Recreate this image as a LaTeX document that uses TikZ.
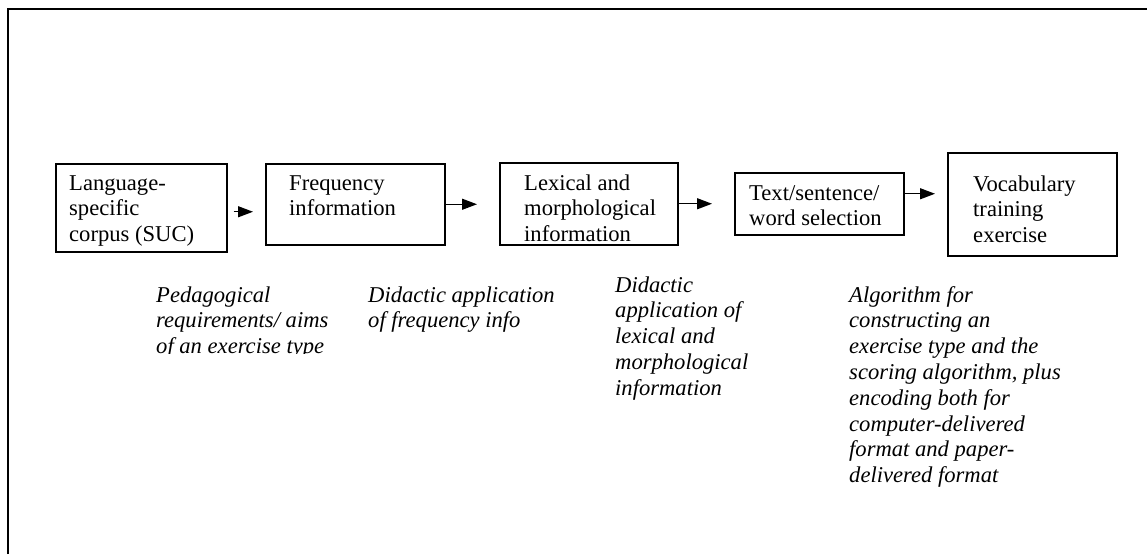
\documentclass[tikz,border=0pt]{standalone}
\usepackage{fontspec}
\setmainfont{Liberation Serif}
\usetikzlibrary{arrows.meta}
\newcommand{\lines}[1]{\begin{tabular}[t]{@{}l@{}}#1\end{tabular}}
\begin{document}
\begin{tikzpicture}[x=1pt,y=-1pt,
  box/.style={draw, line width=1.5pt, inner sep=0pt, anchor=north west},
  txt/.style={anchor=base west, inner sep=0pt, font=\fontsize{22.6}{25.7}\selectfont},
  note/.style={anchor=base west, inner sep=0pt, font=\fontsize{22.6}{25.8}\selectfont\itshape},
  arr/.style={-{Triangle[length=15pt,width=11pt]}, line width=1.3pt},
  frame/.style={line width=2pt}]
\useasboundingbox (0,0) rectangle (1147,554);

% outer frame (left and top edges visible)
\draw[frame] (8,554) -- (8,9) -- (1147,9);

% process boxes
\node[box, minimum width=171pt, minimum height=88pt]  (b1) at (55,163) {};
\node[box, minimum width=179pt, minimum height=81pt]  (b2) at (265,163) {};
\node[box, minimum width=178pt, minimum height=82pt]  (b3) at (499,162) {};
\node[box, minimum width=169pt, minimum height=62pt]  (b4) at (734,172) {};
\node[box, minimum width=169pt, minimum height=103pt] (b5) at (947,152) {};

% box texts
\node[txt] (t1) at (69,190)  {\lines{Language-\\specific\\corpus (SUC)}};
\node[txt] (t2) at (289,190) {\lines{Frequency\\information}};
\node[txt] (t3) at (524,190) {\lines{Lexical and\\morphological\\information}};
\node[txt] (t4) at (749,200) {\lines{Text/sentence/\\word selection}};
\node[txt] (t5) at (973,191) {\lines{Vocabulary\\training\\exercise}};

% arrows between the boxes
\coordinate (a1) at ([yshift=-4pt]b1.east);
\coordinate (a2) at (b2.east);
\coordinate (a3) at (b3.east);
\coordinate (a4) at ([yshift=10pt]b4.east);
\draw[arr, shorten <=6pt, shorten >=12pt] (a1) -- (a1 -| b2.west);
\draw[arr, shorten >=22pt] (a2) -- (a2 -| b3.west);
\draw[arr, shorten >=22pt] (a3) -- (a3 -| b4.west);
\draw[arr, shorten >=12pt] (a4) -- (a4 -| b5.west);

% italic annotations
\begin{scope}
  \clip (140,280) rectangle (360,353);
  \node[note] (n1) at (156,302) {\lines{Pedagogical\\requirements/ aims\\of an exercise type}};
\end{scope}
\node[note] (n2) at (368,302) {\lines{Didactic application\\of frequency info}};
\node[note] (n3) at (615,292) {\lines{Didactic\\application of\\lexical and\\morphological\\information}};
\node[note] (n4) at (849,302) {\lines{Algorithm for\\constructing an\\exercise type and the\\scoring algorithm, plus\\encoding both for\\computer-delivered\\format and paper-\\delivered format}};
\end{tikzpicture}
\end{document}
